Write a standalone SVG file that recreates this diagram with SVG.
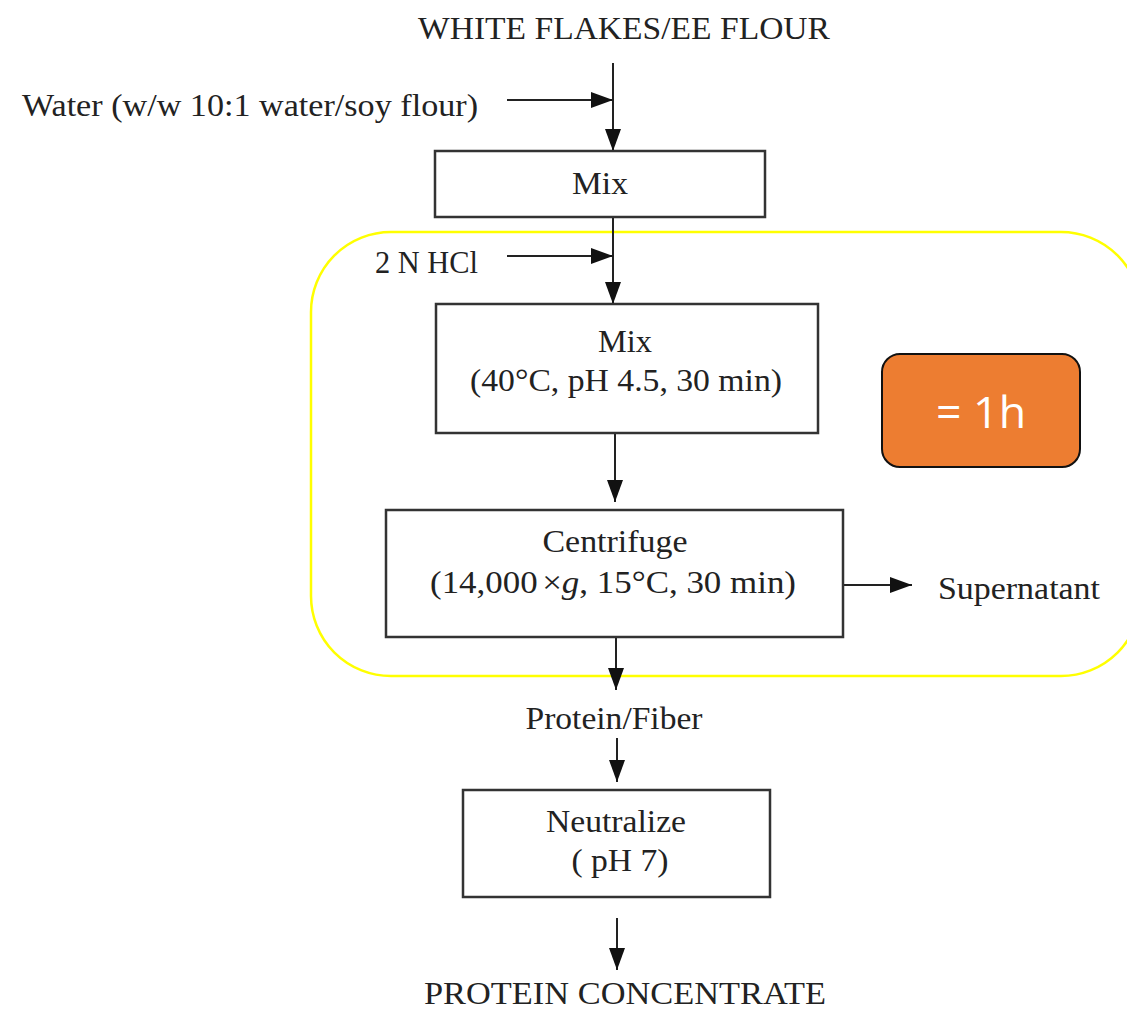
<svg xmlns="http://www.w3.org/2000/svg" width="1127" height="1012" viewBox="0 0 1127 1012">
<style>
.t{font-family:"Liberation Serif","Times New Roman",serif;font-size:31px;fill:#222;}
.box{fill:#fff;stroke:#333;stroke-width:2.5;}
.ln{stroke:#222;stroke-width:2;fill:none;}
</style>
<defs>
<marker id="a" viewBox="0 0 22 16" refX="22" refY="8" markerWidth="22" markerHeight="16" orient="auto" markerUnits="userSpaceOnUse">
<path d="M0,0 L22,8 L0,16 Z" fill="#111"/>
</marker>
</defs>
<rect width="1127" height="1012" fill="#fff"/>
<g id="highlight">
<rect x="311" y="232" width="830" height="444" rx="80" ry="80" fill="none" stroke="#FFFF00" stroke-width="2.5"/>
</g>
<g id="connectors">
<line class="ln" x1="613" y1="63" x2="613" y2="151" marker-end="url(#a)"/>
<line class="ln" x1="507" y1="100" x2="613" y2="100" marker-end="url(#a)"/>
<line class="ln" x1="613" y1="217" x2="613" y2="304" marker-end="url(#a)"/>
<line class="ln" x1="507" y1="256" x2="613" y2="256" marker-end="url(#a)"/>
<line class="ln" x1="615" y1="433" x2="615" y2="502" marker-end="url(#a)"/>
<line class="ln" x1="843" y1="585" x2="912" y2="585" marker-end="url(#a)"/>
<line class="ln" x1="616" y1="637" x2="616" y2="690" marker-end="url(#a)"/>
<line class="ln" x1="617" y1="738" x2="617" y2="782" marker-end="url(#a)"/>
<line class="ln" x1="617" y1="918" x2="617" y2="970" marker-end="url(#a)"/>
</g>
<g id="input">
<text class="t" x="624" y="39" text-anchor="middle" textLength="412" lengthAdjust="spacingAndGlyphs">WHITE FLAKES/EE FLOUR</text>
</g>
<g id="water">
<text class="t" x="22" y="116" textLength="456" lengthAdjust="spacingAndGlyphs">Water (w/w 10:1 water/soy flour)</text>
</g>
<g id="mix1">
<rect class="box" x="435" y="151" width="330" height="66"/>
<text class="t" x="600" y="194" text-anchor="middle" textLength="56" lengthAdjust="spacingAndGlyphs">Mix</text>
</g>
<g id="hcl">
<text class="t" x="375" y="273" textLength="103" lengthAdjust="spacingAndGlyphs">2 N HCl</text>
</g>
<g id="mix2">
<rect class="box" x="436" y="304" width="382" height="129"/>
<text class="t" x="625" y="352" text-anchor="middle" textLength="54" lengthAdjust="spacingAndGlyphs">Mix</text>
<text class="t" x="626" y="391" text-anchor="middle" textLength="312" lengthAdjust="spacingAndGlyphs">(40°C, pH 4.5, 30 min)</text>
</g>
<g id="centrifuge">
<rect class="box" x="386" y="510" width="457" height="127"/>
<text class="t" x="615" y="552" text-anchor="middle" textLength="145" lengthAdjust="spacingAndGlyphs">Centrifuge</text>
<text class="t" x="613" y="593" text-anchor="middle" textLength="366" lengthAdjust="spacingAndGlyphs">(14,000<tspan dx="4">×</tspan><tspan font-style="italic">g</tspan>, 15°C, 30 min)</text>
</g>
<g id="supernatant">
<text class="t" x="938" y="599" textLength="162" lengthAdjust="spacingAndGlyphs">Supernatant</text>
</g>
<g id="time">
<rect x="882" y="354" width="198" height="113" rx="18" ry="18" fill="#ED7D31" stroke="#111" stroke-width="2"/>
<text x="981" y="428" text-anchor="middle" font-family="Open Sans, Liberation Sans, sans-serif" font-size="44" fill="#fff" textLength="90" lengthAdjust="spacingAndGlyphs">= 1h</text>
</g>
<g id="protein-fiber">
<text class="t" x="614" y="729" text-anchor="middle" textLength="177" lengthAdjust="spacingAndGlyphs">Protein/Fiber</text>
</g>
<g id="neutralize">
<rect class="box" x="463" y="790" width="307" height="107"/>
<text class="t" x="616" y="832" text-anchor="middle" textLength="140" lengthAdjust="spacingAndGlyphs">Neutralize</text>
<text class="t" x="620" y="871" text-anchor="middle" textLength="97" lengthAdjust="spacingAndGlyphs">( pH 7)</text>
</g>
<g id="output">
<text class="t" x="625" y="1004" text-anchor="middle" font-size="30" textLength="402" lengthAdjust="spacingAndGlyphs">PROTEIN CONCENTRATE</text>
</g>
</svg>
